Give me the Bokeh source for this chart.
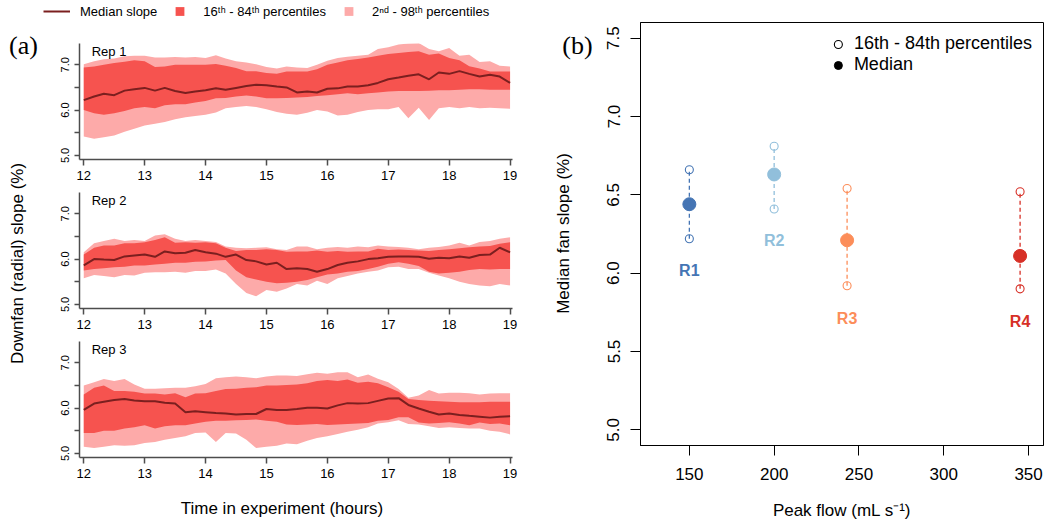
import math
from bokeh.plotting import figure
from bokeh.models import (ColumnDataSource, Range1d, FixedTicker, PrintfTickFormatter,
                          Label, Legend, LegendItem)
from bokeh.layouts import row, column
from bokeh.embed import file_html
from bokeh.resources import INLINE
from bokeh.core.properties import value

FONT = "Liberation Sans"
SERIF = "Liberation Serif"
PINK = "#fdaaa9"
RED = "#f6534f"
DARK = "#7b1f1f"
AXC = "#4d4d4d"

# ---------------- panel (a) data ----------------
time_h = [12.00, 12.17, 12.33, 12.50, 12.67, 12.83,
          13.00, 13.17, 13.33, 13.50, 13.67, 13.83,
          14.00, 14.17, 14.33, 14.50, 14.67, 14.83,
          15.00, 15.17, 15.33, 15.50, 15.67, 15.83,
          16.00, 16.17, 16.33, 16.50, 16.67, 16.83,
          17.00, 17.17, 17.33, 17.50, 17.67, 17.83,
          18.00, 18.17, 18.33, 18.50, 18.67, 18.83, 19.00]

rep1_median = [6.22, 6.30, 6.36, 6.33, 6.43, 6.46, 6.49, 6.43, 6.49, 6.42, 6.38, 6.41,
               6.44, 6.48, 6.45, 6.49, 6.53, 6.56, 6.55, 6.52, 6.50, 6.39, 6.41, 6.39,
               6.47, 6.48, 6.52, 6.52, 6.55, 6.60, 6.68, 6.72, 6.76, 6.79, 6.68, 6.83,
               6.80, 6.86, 6.80, 6.74, 6.78, 6.74, 6.60]
rep1_p16 = [6.00, 5.93, 5.90, 5.93, 5.98, 6.04, 6.07, 6.04, 6.11, 6.13, 6.13, 6.17,
            6.20, 6.26, 6.27, 6.30, 6.32, 6.30, 6.26, 6.26, 6.27, 6.28, 6.29, 6.31,
            6.33, 6.35, 6.37, 6.35, 6.37, 6.39, 6.41, 6.42, 6.42, 6.42, 6.43, 6.44,
            6.44, 6.45, 6.46, 6.46, 6.45, 6.45, 6.45]
rep1_p84 = [6.94, 6.96, 7.00, 7.04, 7.07, 7.10, 7.08, 6.95, 6.96, 7.00, 7.00, 7.00,
            7.00, 7.02, 6.98, 6.93, 6.86, 6.86, 6.82, 6.80, 6.85, 6.85, 6.85, 6.90,
            7.00, 7.05, 7.10, 7.13, 7.16, 7.20, 7.24, 7.26, 7.28, 7.30, 7.22, 7.25,
            7.15, 7.10, 6.97, 6.92, 6.85, 6.85, 6.85]
rep1_p2 = [5.42, 5.37, 5.40, 5.44, 5.52, 5.59, 5.66, 5.70, 5.74, 5.80, 5.84, 5.87,
           5.90, 5.95, 6.04, 6.07, 6.09, 6.07, 6.02, 5.96, 5.92, 5.90, 5.94, 6.00,
           5.97, 5.88, 5.90, 5.96, 6.00, 6.02, 6.02, 6.07, 5.82, 6.05, 5.78, 6.04,
           6.07, 6.04, 6.07, 6.04, 6.05, 6.04, 6.03]
rep1_p98 = [7.01, 7.08, 7.12, 7.14, 7.19, 7.20, 7.20, 7.16, 7.16, 7.17, 7.16, 7.17,
            7.15, 7.21, 7.14, 7.08, 7.05, 7.01, 6.95, 6.92, 6.96, 6.94, 6.93, 7.00,
            7.09, 7.15, 7.18, 7.20, 7.22, 7.35, 7.39, 7.45, 7.47, 7.48, 7.35, 7.30,
            7.37, 7.20, 7.22, 7.06, 7.08, 6.98, 6.96]

rep2_median = [5.86, 6.00, 5.99, 5.98, 6.06, 6.08, 6.10, 6.05, 6.17, 6.13, 6.14, 6.20,
               6.15, 6.12, 6.05, 6.10, 5.98, 5.95, 5.88, 5.92, 5.78, 5.80, 5.78, 5.72,
               5.78, 5.87, 5.92, 5.95, 6.00, 6.02, 6.05, 6.06, 6.06, 6.05, 6.01, 6.03,
               6.02, 6.06, 6.03, 6.09, 6.10, 6.25, 6.15]
rep2_p16 = [5.75, 5.78, 5.80, 5.82, 5.83, 5.86, 5.86, 5.88, 5.90, 5.92, 5.92, 5.94,
            5.95, 5.97, 5.98, 5.75, 5.60, 5.55, 5.50, 5.47, 5.48, 5.50, 5.54, 5.60,
            5.66, 5.68, 5.72, 5.74, 5.78, 5.83, 5.90, 5.93, 5.90, 5.85, 5.72, 5.68,
            5.70, 5.72, 5.76, 5.78, 5.77, 5.78, 5.78]
rep2_p84 = [6.10, 6.25, 6.30, 6.30, 6.35, 6.35, 6.37, 6.42, 6.48, 6.36, 6.37, 6.36,
            6.37, 6.35, 6.25, 6.18, 6.20, 6.20, 6.22, 6.20, 6.16, 6.17, 6.17, 6.19,
            6.16, 6.18, 6.16, 6.17, 6.17, 6.23, 6.20, 6.21, 6.20, 6.19, 6.18, 6.20,
            6.22, 6.24, 6.26, 6.28, 6.29, 6.34, 6.37]
rep2_p2 = [5.58, 5.65, 5.63, 5.60, 5.65, 5.64, 5.70, 5.71, 5.71, 5.72, 5.70, 5.74,
           5.74, 5.77, 5.68, 5.45, 5.25, 5.18, 5.32, 5.28, 5.35, 5.45, 5.42, 5.52,
           5.45, 5.58, 5.63, 5.68, 5.72, 5.75, 5.82, 5.83, 5.78, 5.78, 5.70, 5.64,
           5.58, 5.50, 5.45, 5.42, 5.40, 5.45, 5.42]
rep2_p98 = [6.15, 6.35, 6.40, 6.45, 6.40, 6.42, 6.40, 6.52, 6.55, 6.45, 6.40, 6.42,
            6.40, 6.38, 6.28, 6.25, 6.24, 6.25, 6.26, 6.22, 6.20, 6.28, 6.28, 6.22,
            6.25, 6.27, 6.25, 6.28, 6.26, 6.30, 6.28, 6.27, 6.25, 6.22, 6.25, 6.27,
            6.30, 6.36, 6.30, 6.38, 6.40, 6.45, 6.48]

rep3_median = [5.96, 6.10, 6.14, 6.18, 6.20, 6.17, 6.15, 6.15, 6.12, 6.10, 5.91, 5.93,
               5.91, 5.89, 5.88, 5.86, 5.87, 5.87, 5.98, 5.96, 5.96, 5.98, 6.01, 6.01,
               5.99, 6.06, 6.11, 6.10, 6.11, 6.16, 6.21, 6.22, 6.07, 5.99, 5.92, 5.86,
               5.88, 5.85, 5.83, 5.81, 5.79, 5.81, 5.82]
rep3_p16 = [5.45, 5.45, 5.50, 5.50, 5.55, 5.58, 5.62, 5.55, 5.60, 5.62, 5.62, 5.66,
            5.70, 5.72, 5.72, 5.73, 5.74, 5.75, 5.72, 5.70, 5.64, 5.63, 5.64, 5.65,
            5.63, 5.64, 5.65, 5.66, 5.67, 5.72, 5.74, 5.80, 5.80, 5.68, 5.66, 5.67,
            5.69, 5.66, 5.62, 5.68, 5.65, 5.66, 5.62]
rep3_p84 = [6.30, 6.45, 6.50, 6.38, 6.38, 6.36, 6.32, 6.32, 6.30, 6.33, 6.24, 6.32,
            6.33, 6.38, 6.42, 6.43, 6.45, 6.46, 6.50, 6.50, 6.51, 6.52, 6.55, 6.60,
            6.62, 6.60, 6.63, 6.56, 6.58, 6.55, 6.46, 6.36, 6.20, 6.18, 6.16, 6.15,
            6.14, 6.13, 6.13, 6.13, 6.14, 6.14, 6.14]
rep3_p2 = [5.15, 5.12, 5.15, 5.18, 5.17, 5.18, 5.23, 5.25, 5.30, 5.34, 5.38, 5.45,
           5.46, 5.25, 5.45, 5.44, 5.30, 5.12, 5.15, 5.17, 5.22, 5.20, 5.28, 5.34,
           5.38, 5.43, 5.48, 5.52, 5.58, 5.66, 5.69, 5.73, 5.65, 5.64, 5.60, 5.56,
           5.58, 5.56, 5.55, 5.55, 5.50, 5.48, 5.42]
rep3_p98 = [6.50, 6.57, 6.64, 6.60, 6.64, 6.52, 6.43, 6.43, 6.44, 6.45, 6.45, 6.48,
            6.53, 6.66, 6.68, 6.70, 6.68, 6.66, 6.70, 6.72, 6.72, 6.71, 6.75, 6.78,
            6.76, 6.79, 6.79, 6.68, 6.74, 6.65, 6.57, 6.42, 6.23, 6.28, 6.40, 6.32,
            6.34, 6.34, 6.33, 6.30, 6.32, 6.33, 6.33]

rep_names = ["Rep 1", "Rep 2", "Rep 3"]
time_ticks = [12, 13, 14, 15, 16, 17, 18, 19]
slope_ticks_a = [5.0, 6.0, 7.0]
slope_minor_a = [5.5, 6.5]

# ---------------- panel (b) data ----------------
runs = ["R1", "R2", "R3", "R4"]
peak_flow = [150, 200, 243, 345]
median_slope = [6.44, 6.63, 6.21, 6.11]
p16_slope = [6.22, 6.41, 5.92, 5.90]
p84_slope = [6.66, 6.81, 6.54, 6.52]
run_label_y = [6.02, 6.21, 5.71, 5.69]
run_colors = ["#4575b4", "#91bfdb", "#fc8d59", "#d73027"]
flow_ticks = [150, 200, 250, 300, 350]
slope_ticks_b = [5.0, 5.5, 6.0, 6.5, 7.0, 7.5]


def strip(w, h, left=0, right=0, top=0, bottom=0, xr=None, yr=None):
    """Blank figure used only to hold text annotations."""
    f = figure(width=w, height=h,
               x_range=Range1d(*(xr if xr else (0, w))),
               y_range=Range1d(*(yr if yr else (h, 0))),
               output_backend="svg", toolbar_location=None,
               min_border_left=left, min_border_right=right,
               min_border_top=top, min_border_bottom=bottom,
               x_axis_location=None, y_axis_location=None)
    f.outline_line_color = None
    f.grid.visible = False
    return f


def style_axes_a(p):
    p.grid.visible = False
    p.outline_line_color = None
    for ax in (p.xaxis[0], p.yaxis[0]):
        ax.axis_line_color = AXC
        ax.axis_line_width = 1.5
        ax.major_tick_line_color = AXC
        ax.major_tick_line_width = 1.5
        ax.minor_tick_line_color = AXC
        ax.minor_tick_line_width = 1.5
        ax.major_tick_in = 0
        ax.minor_tick_in = 0
        ax.major_label_text_font = FONT
        ax.major_label_text_color = "black"
    xa = p.xaxis[0]
    xa.ticker = FixedTicker(ticks=time_ticks)
    xa.major_tick_out = 6
    xa.major_label_standoff = 5
    xa.major_label_text_font_size = "13px"
    ya = p.yaxis[0]
    ya.ticker = FixedTicker(ticks=slope_ticks_a, minor_ticks=slope_minor_a)
    ya.formatter = PrintfTickFormatter(format="%.1f")
    ya.major_tick_out = 5
    ya.minor_tick_out = 5
    ya.major_label_orientation = "vertical"
    ya.major_label_standoff = 6
    ya.major_label_text_font_size = "11px"


def rep_fig(name, med, lo16, hi84, lo2, hi98, height, top, bottom):
    p = figure(width=500, height=height, x_range=Range1d(11.93, 19.04),
               y_range=Range1d(4.91, 7.47), output_backend="svg",
               toolbar_location=None, min_border_left=39, min_border_right=28,
               min_border_top=top, min_border_bottom=bottom)
    src = ColumnDataSource(dict(t=time_h, med=med, lo16=lo16, hi84=hi84,
                                lo2=lo2, hi98=hi98))
    p.varea(x="t", y1="lo2", y2="hi98", source=src, fill_color=PINK)
    p.varea(x="t", y1="lo16", y2="hi84", source=src, fill_color=RED)
    p.line(x="t", y="med", source=src, line_color=DARK, line_width=2)
    style_axes_a(p)
    p.add_layout(Label(x=12.13, y=7.29, text=name, text_font=FONT,
                       text_font_size="13px", text_color="black",
                       text_baseline="alphabetic"))
    return p


p1 = rep_fig(rep_names[0], rep1_median, rep1_p16, rep1_p84, rep1_p2, rep1_p98, 165, 21, 28)
p2 = rep_fig(rep_names[1], rep2_median, rep2_p16, rep2_p84, rep2_p2, rep2_p98, 149, 5, 28)
p3 = rep_fig(rep_names[2], rep3_median, rep3_p16, rep3_p84, rep3_p2, rep3_p98, 153, 5, 32)

# x-axis title strip under panel (a): same side borders as the panels,
# its x range given in page pixels
tf = strip(500, 42, left=39, right=28, xr=(79, 512), yr=(42, 0))
tf.add_layout(Label(x=281.5, y=19, text="Time in experiment (hours)", text_font=FONT,
                    text_font_size="17px", text_color="black", text_align="center",
                    text_baseline="middle"))

# legend strip above panel (a); legend renderers lie outside the strip's ranges
lf = figure(width=500, height=22, x_range=Range1d(0, 1), y_range=Range1d(0, 1),
            output_backend="svg", toolbar_location=None, min_border=0,
            x_axis_location=None, y_axis_location=None)
lf.outline_line_color = None
lf.grid.visible = False
leg_src = ColumnDataSource(dict(t=time_h, med=rep1_median))
r_l = lf.line(x="t", y="med", source=leg_src, line_color=DARK, line_width=2)
r_r = lf.scatter(x="t", y="med", source=leg_src, marker="square", size=0,
                 fill_color=RED, line_color=None)
r_p = lf.scatter(x="t", y="med", source=leg_src, marker="square", size=0,
                 fill_color=PINK, line_color=None)
leg_a = Legend(items=[LegendItem(label="Median slope", renderers=[r_l]),
                      LegendItem(label="16\u1d57\u02b0 - 84\u1d57\u02b0 percentiles", renderers=[r_r]),
                      LegendItem(label="2\u207f\u1d48 - 98\u1d57\u02b0 percentiles", renderers=[r_p])],
               orientation="horizontal", location=(3, 0), margin=0, padding=0,
               spacing=9, glyph_width=27, glyph_height=22, label_height=22,
               label_standoff=10, label_text_font=FONT, label_text_font_size="13px",
               label_text_color="black", border_line_color=None,
               background_fill_alpha=0)
lf.add_layout(leg_a)

# side strip with "(a)" and the shared y-axis title (frame matches panel (b): 22..445)
sf = strip(40, 531, top=22, bottom=86, xr=(0, 40), yr=(445, 22))
sf.add_layout(Label(x=23, y=45, text="(a)", text_font=SERIF, text_font_size="26px",
                    text_align="center", text_baseline="middle", text_color="black"))
sf.add_layout(Label(x=17, y=263, text="Downfan (radial) slope (%)", text_font=FONT,
                    text_font_size="17px", text_align="center", text_baseline="middle",
                    angle=math.pi / 2, text_color="black"))

# ---------------- panel (b) ----------------
bf = strip(58, 531, top=22, bottom=86, xr=(0, 58), yr=(445, 22))
bf.add_layout(Label(x=37, y=45, text="(b)", text_font=SERIF, text_font_size="26px",
                    text_align="center", text_baseline="middle", text_color="black"))
bf.add_layout(Label(x=23, y=233, text="Median fan slope (%)", text_font=FONT,
                    text_font_size="17px", text_align="center", text_baseline="middle",
                    angle=math.pi / 2, text_color="black"))

pb = figure(width=447, height=531, x_range=Range1d(121.2, 358.8), y_range=Range1d(4.9, 7.6),
            output_backend="svg", toolbar_location=None, min_border_left=42,
            min_border_right=2, min_border_top=22, min_border_bottom=86)
src_b = ColumnDataSource(dict(x=peak_flow, med=median_slope, lo=p16_slope, hi=p84_slope,
                              ly=run_label_y, run=runs, color=run_colors))
pb.segment(x0="x", y0="lo", x1="x", y1="hi", source=src_b, line_color="color",
           line_dash="4 3", line_width=1.3)
pb.scatter(x="x", y="lo", source=src_b, marker="circle", size=8, fill_color=None,
           line_color="color", line_width=1.1)
pb.scatter(x="x", y="hi", source=src_b, marker="circle", size=8, fill_color=None,
           line_color="color", line_width=1.1)
# black legend-only markers, hidden beneath the coloured median dots
r_open = pb.scatter(x="x", y="med", source=src_b, marker="circle", size=4,
                    fill_color=None, line_color="black", line_width=1.1)
r_fill = pb.scatter(x="x", y="med", source=src_b, marker="circle", size=4,
                    fill_color="black", line_color="black")
pb.scatter(x="x", y="med", source=src_b, marker="circle", size=13, fill_color="color",
           line_color="color")
pb.text(x="x", y="ly", text="run", source=src_b, text_color="color", text_font=value(FONT),
        text_font_style="bold", text_font_size="16px", text_align="center",
        text_baseline="middle")
pb.grid.visible = False
pb.outline_line_color = "black"
pb.outline_line_width = 1
for ax in (pb.xaxis[0], pb.yaxis[0]):
    ax.axis_line_color = "black"
    ax.major_tick_line_color = "black"
    ax.major_tick_in = 0
    ax.major_tick_out = 10
    ax.minor_tick_line_color = None
    ax.major_label_text_font = FONT
    ax.major_label_text_font_size = "17px"
    ax.major_label_text_color = "black"
    ax.axis_label_text_font = FONT
    ax.axis_label_text_font_size = "17px"
    ax.axis_label_text_font_style = "normal"
    ax.axis_label_text_color = "black"
pb.xaxis[0].ticker = FixedTicker(ticks=flow_ticks)
pb.xaxis[0].major_label_standoff = 12
pb.xaxis[0].axis_label = "Peak flow (mL s\u207b\u00b9)"
pb.xaxis[0].axis_label_standoff = 18
pb.yaxis[0].ticker = FixedTicker(ticks=slope_ticks_b)
pb.yaxis[0].formatter = PrintfTickFormatter(format="%.1f")
pb.yaxis[0].major_label_orientation = "vertical"
pb.yaxis[0].major_label_standoff = 11

leg_b = Legend(items=[LegendItem(label="16th - 84th percentiles", renderers=[r_open]),
                      LegendItem(label="Median", renderers=[r_fill])],
               location="top_right", margin=11, padding=0, spacing=0,
               glyph_width=20, glyph_height=20, label_height=20, label_standoff=6,
               label_text_font=FONT, label_text_font_size="18px",
               label_text_color="black", border_line_color=None,
               background_fill_alpha=0)
pb.add_layout(leg_b)

layout = row(sf, column(row(lf), p1, p2, p3, tf), bf, pb)
open("out.html", "w").write(file_html(layout, INLINE))
